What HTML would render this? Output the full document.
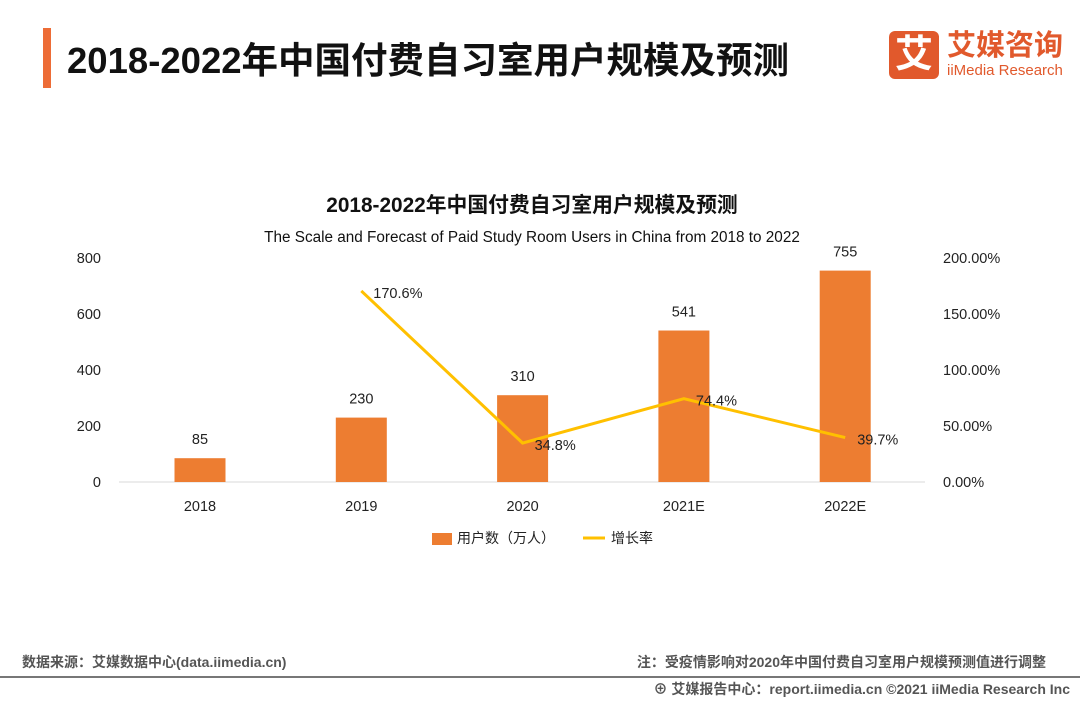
<!DOCTYPE html>
<html><head><meta charset="utf-8"><style>
body{margin:0;width:1080px;height:702px;background:#fff;overflow:hidden;font-family:"Liberation Sans","Noto Sans CJK SC",sans-serif;position:relative}
.abs{position:absolute}
</style></head><body>
<div class="abs" style="left:43px;top:28px;width:8px;height:60px;background:#ED6C36"></div>
<div class="abs" style="left:67px;top:31px;font-size:36.5px;font-weight:bold;color:#111;white-space:nowrap">2018-2022年中国付费自习室用户规模及预测</div>
<div class="abs" style="left:889px;top:31px;width:50px;height:48px;background:#E1592C;border-radius:6px;color:#fff;font-size:38px;font-weight:bold;text-align:center;line-height:48px">艾</div>
<div class="abs" style="left:947px;top:29px;font-size:29px;font-weight:bold;color:#E1592C;white-space:nowrap;line-height:34px">艾媒咨询</div>
<div class="abs" style="left:947px;top:62px;font-size:15px;color:#E1592C;white-space:nowrap">iiMedia Research</div>
<svg class="abs" style="left:0;top:0" width="1080" height="702">
<text x="532" y="212" text-anchor="middle" font-size="20.8" font-weight="bold" fill="#111">2018-2022年中国付费自习室用户规模及预测</text>
<text x="532" y="242" text-anchor="middle" font-size="15.3" fill="#111">The Scale and Forecast of Paid Study Room Users in China from 2018 to 2022</text>
<line x1="119" y1="482" x2="925" y2="482" stroke="#d9d9d9"/>
<g id="g"></g>
<rect x="432" y="533" width="20" height="12" fill="#ED7D31"/>
<text x="457" y="543" font-size="14" fill="#222">用户数（万人）</text>
<line x1="583" y1="538" x2="605" y2="538" stroke="#FFC000" stroke-width="3"/>
<text x="611" y="543" font-size="14" fill="#222">增长率</text>
<line x1="0" y1="677" x2="1080" y2="677" stroke="#777" stroke-width="2"/>
<text x="22" y="667" font-size="14" font-weight="bold" fill="#555">数据来源：艾媒数据中心(data.iimedia.cn)</text>
<text x="1046" y="667" text-anchor="end" font-size="14" font-weight="bold" fill="#555">注：受疫情影响对2020年中国付费自习室用户规模预测值进行调整</text>
<text x="1070" y="694" text-anchor="end" font-size="14" font-weight="bold" fill="#555">⊕ 艾媒报告中心：report.iimedia.cn  ©2021  iiMedia Research  Inc</text>
</svg>
<script>
const categories=["2018","2019","2020","2021E","2022E"];
const users=[85,230,310,541,755];
const growth=[null,170.6,34.8,74.4,39.7];
const growthLabels=["","170.6%","34.8%","74.4%","39.7%"];
const leftTicks=[0,200,400,600,800];
const rightTicks=["0.00%","50.00%","100.00%","150.00%","200.00%"];
const NS="http://www.w3.org/2000/svg";
const g=document.getElementById('g');
const y0=482,yTop=258;
const yL=v=>y0-(v/800)*(y0-yTop);
const yR=v=>y0-(v/200)*(y0-yTop);
const xC=i=>200+i*161.3;
function mk(t,a,txt){const e=document.createElementNS(NS,t);for(const k in a)e.setAttribute(k,a[k]);if(txt!=null)e.textContent=txt;g.appendChild(e);return e;}
leftTicks.forEach((v)=>{const e=mk('text',{x:101,y:yL(v)+5,'text-anchor':'end','font-size':14.5,fill:'#222'},String(v));

});
rightTicks.forEach((s,i)=>{const e=mk('text',{x:943,y:yR(i*50)+5,'font-size':14.5,fill:'#222'},s);

});
categories.forEach((c,i)=>{
const e=mk('text',{x:xC(i),y:511,'text-anchor':'middle','font-size':14.5,fill:'#222'},c);


const b=mk('rect',{x:xC(i)-25.5,y:yL(users[i]),width:51,height:y0-yL(users[i]),fill:'#ED7D31'});


const l=mk('text',{x:xC(i),y:yL(users[i])-14,'text-anchor':'middle','font-size':14.5,fill:'#222'},String(users[i]));


});
let pts=[];growth.forEach((v,i)=>{if(v!=null)pts.push(xC(i)+','+yR(v));});
const pl=mk('polyline',{points:pts.join(' '),fill:'none',stroke:'#FFC000','stroke-width':3});


growth.forEach((v,i)=>{if(v==null)return;
const t=mk('text',{x:xC(i)+12,y:yR(v)+7,'font-size':14.5,fill:'#222'},growthLabels[i]);

});
</script>
</body></html>
